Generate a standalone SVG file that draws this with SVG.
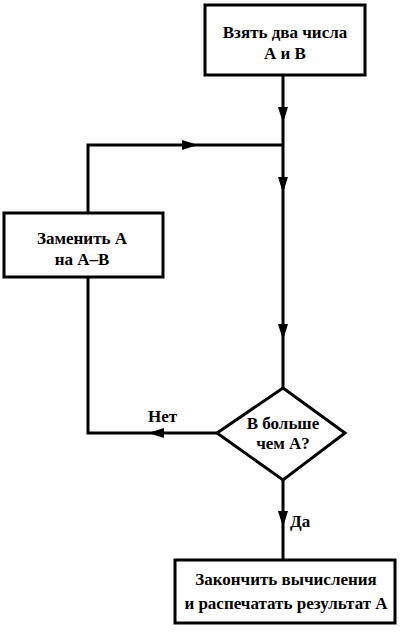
<svg xmlns="http://www.w3.org/2000/svg" width="400" height="637" viewBox="0 0 400 637">
<style>
.box{fill:#fff;stroke:#000;stroke-width:3}
.ln{fill:none;stroke:#000;stroke-width:3}
.t{font-family:"Liberation Serif","Times New Roman",serif;font-weight:bold;font-size:17px;fill:#000;text-anchor:middle}
.l{font-family:"Liberation Serif","Times New Roman",serif;font-weight:bold;font-size:17px;fill:#000}
</style>
<defs>
<path id="ah" d="M-5,-16 L5,-16 L0,0 Z" fill="#000"/>
</defs>
<rect width="400" height="637" fill="#fff"/>
<g id="connectors">
<path class="ln" d="M283,75 V388"/>
<path class="ln" d="M88,213 V145 H283"/>
<path class="ln" d="M88,277 V433 H217"/>
<path class="ln" d="M283,480 V560"/>
<use href="#ah" transform="translate(283,123)"/>
<use href="#ah" transform="translate(198,145) rotate(-90)"/>
<use href="#ah" transform="translate(283,193)"/>
<use href="#ah" transform="translate(283,340)"/>
<use href="#ah" transform="translate(148,433) rotate(90)"/>
<use href="#ah" transform="translate(283,527)"/>
<text class="l" x="148" y="422">Нет</text>
<text class="l" x="290" y="527">Да</text>
</g>
<g id="start">
<rect class="box" x="205" y="5" width="160" height="70"/>
<text class="t" x="285" y="38">Взять два числа</text>
<text class="t" x="285" y="59">А и В</text>
</g>
<g id="replace">
<rect class="box" x="4" y="213" width="159" height="64"/>
<text class="t" x="82" y="244">Заменить А</text>
<text class="t" x="82" y="265">на А–В</text>
</g>
<g id="decision">
<polygon class="box" points="283,388 345,433 283,480 217,433"/>
<text class="t" x="283" y="429">В больше</text>
<text class="t" x="283" y="449">чем А?</text>
</g>
<g id="finish">
<rect class="box" x="175" y="560" width="220" height="63"/>
<text class="t" x="286" y="585">Закончить вычисления</text>
<text class="t" x="286" y="609">и распечатать результат А</text>
</g>
</svg>
